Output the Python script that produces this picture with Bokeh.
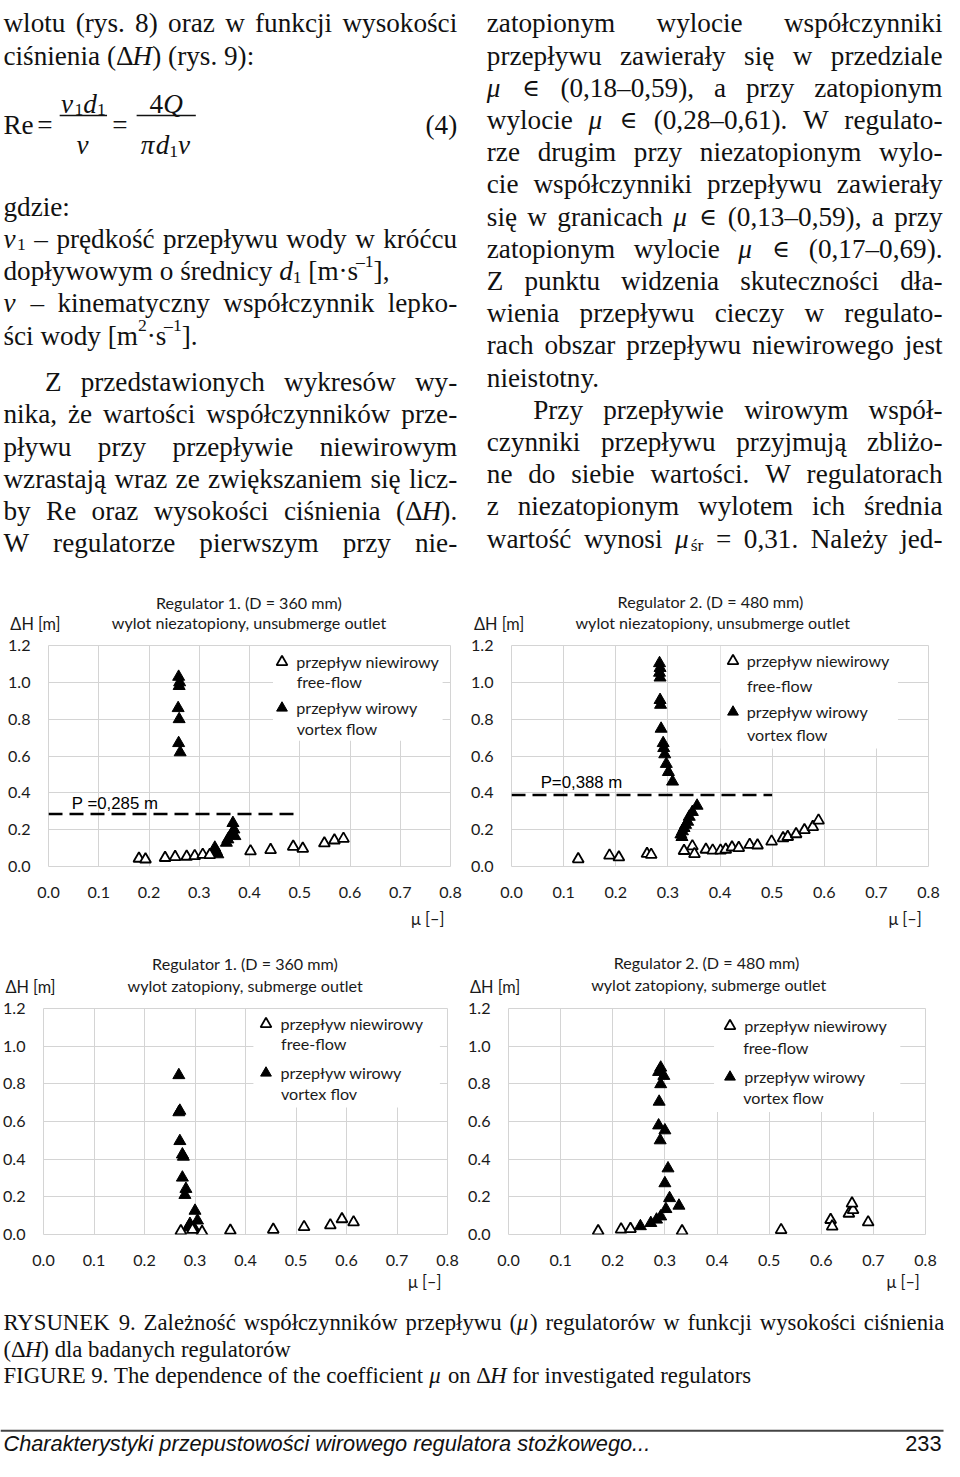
import re
from bokeh.plotting import figure
from bokeh.models import (Range1d, ColumnDataSource, Legend, LegendItem, Label,
                          BoxAnnotation, FixedTicker, NumeralTickFormatter)
from bokeh.layouts import column, row
from bokeh.core.properties import value, field
from bokeh.embed import file_html
from bokeh.resources import INLINE

# ---------------- chart data ----------------
mu_ticks = [0.0, 0.1, 0.2, 0.3, 0.4, 0.5, 0.6, 0.7, 0.8]
dh_ticks = [0.0, 0.2, 0.4, 0.6, 0.8, 1.0, 1.2]

# Regulator 1 (D = 360 mm), unsubmerged outlet
r1u_free_mu = [0.180, 0.193, 0.232, 0.252, 0.275, 0.291, 0.307, 0.321, 0.402, 0.442, 0.487, 0.506, 0.549, 0.569, 0.587]
r1u_free_dh = [0.043, 0.039, 0.047, 0.052, 0.054, 0.057, 0.064, 0.063, 0.083, 0.090, 0.108, 0.097, 0.126, 0.142, 0.151]
r1u_vort_mu = [0.259, 0.261, 0.260, 0.258, 0.260, 0.259, 0.262, 0.331, 0.337, 0.334, 0.354, 0.357, 0.367, 0.369, 0.371, 0.365]
r1u_vort_dh = [1.030, 1.000, 0.980, 0.860, 0.800, 0.670, 0.620, 0.102, 0.066, 0.084, 0.129, 0.147, 0.236, 0.201, 0.165, 0.180]
r1u_P = 0.285

# Regulator 2 (D = 480 mm), unsubmerged outlet
r2u_free_mu = [0.128, 0.188, 0.206, 0.260, 0.268, 0.331, 0.347, 0.351, 0.373, 0.386, 0.401, 0.411, 0.423, 0.436,
               0.457, 0.472, 0.499, 0.521, 0.530, 0.546, 0.562, 0.578, 0.589]
r2u_free_dh = [0.040, 0.060, 0.050, 0.069, 0.064, 0.085, 0.110, 0.068, 0.092, 0.087, 0.087, 0.092, 0.104, 0.101,
               0.118, 0.115, 0.136, 0.154, 0.161, 0.176, 0.198, 0.215, 0.250]
r2u_vort_mu = [0.284, 0.285, 0.284, 0.285, 0.285, 0.286, 0.287, 0.291, 0.292, 0.294, 0.297, 0.301, 0.309,
               0.356, 0.347, 0.341, 0.338, 0.334, 0.331, 0.328, 0.325, 0.327]
r2u_vort_dh = [1.104, 1.078, 1.052, 1.026, 0.904, 0.878, 0.748, 0.670, 0.643, 0.609, 0.557, 0.513, 0.461,
               0.330, 0.296, 0.270, 0.243, 0.226, 0.209, 0.191, 0.174, 0.160]
r2u_P = 0.388

# Regulator 1 (D = 360 mm), submerged outlet
r1s_free_mu = [0.272, 0.295, 0.314, 0.370, 0.455, 0.516, 0.568, 0.591, 0.614]
r1s_free_dh = [0.018, 0.026, 0.014, 0.021, 0.026, 0.040, 0.049, 0.082, 0.065]
r1s_vort_mu = [0.268, 0.268, 0.270, 0.270, 0.275, 0.277, 0.275, 0.282, 0.280, 0.300, 0.305, 0.290, 0.287, 0.298]
r1s_vort_dh = [0.846, 0.649, 0.657, 0.496, 0.425, 0.413, 0.302, 0.242, 0.210, 0.126, 0.074, 0.056, 0.039, 0.035]

# Regulator 2 (D = 480 mm), submerged outlet
r2s_free_mu = [0.172, 0.216, 0.234, 0.333, 0.523, 0.618, 0.621, 0.653, 0.661, 0.659, 0.690]
r2s_free_dh = [0.018, 0.027, 0.030, 0.018, 0.024, 0.078, 0.043, 0.111, 0.130, 0.165, 0.065]
r2s_vort_mu = [0.292, 0.288, 0.298, 0.292, 0.289, 0.288, 0.300, 0.291, 0.306, 0.300, 0.309, 0.327, 0.302,
               0.292, 0.284, 0.273, 0.253]
r2s_vort_dh = [0.886, 0.863, 0.842, 0.798, 0.705, 0.579, 0.553, 0.500, 0.351, 0.272, 0.193, 0.153, 0.135,
               0.096, 0.079, 0.061, 0.044]

p_line_mu = [0.0, 0.5]      # extent of the dashed P line

legend_free = ["przepływ niewirowy", "free-flow"]
legend_vort = ["przepływ wirowy", "vortex flow"]
legend_vort_r1s = ["przepływ wirowy", "vortex flov"]

# ---------------- page geometry ----------------
S_X = 944 / 957
S_Y = 1461 / 1474
S_F = (S_X + S_Y) / 2
K = S_F / S_X


def px(v):
    return f"{v * S_F:.2f}px"


def pg(yref):
    return int(round(yref * S_Y))


def pgx(xref):
    return int(round(xref * S_X))


# ---------------- text helpers (Times metrics) ----------------
TIMES = {}
for ch, w in zip("abcdefghijklmnopqrstuvwxyz",
                 [444, 500, 444, 500, 444, 333, 500, 500, 278, 278, 500, 278, 778, 500, 500, 500, 500, 333,
                  389, 278, 500, 500, 722, 500, 500, 444]):
    TIMES[ch] = w
for ch, w in zip("ABCDEFGHIJKLMNOPQRSTUVWXYZ",
                 [722, 667, 667, 722, 611, 556, 722, 722, 333, 389, 722, 611, 889, 722, 722, 556, 722, 667,
                  556, 611, 722, 722, 944, 722, 722, 611]):
    TIMES[ch] = w
for ch in "0123456789":
    TIMES[ch] = 500
TIMES.update({' ': 250, '(': 333, ')': 333, ',': 250, '.': 250, ':': 278, '-': 333, '–': 500, '[': 333,
              ']': 333, '=': 564, '·': 250, 'Δ': 612, 'μ': 576, 'ν': 500, 'π': 549, '∈': 760, '…': 1000})
POL = {'ą': 'a', 'ę': 'e', 'ć': 'c', 'ł': 'l', 'ń': 'n', 'ó': 'o', 'ś': 's', 'ź': 'z', 'ż': 'z',
       'Ż': 'Z', 'Ś': 'S', 'Ł': 'L'}

SERIF = "Liberation Serif"
MATH = "DejaVu Serif"


def em(text):
    return sum(TIMES.get(POL.get(c, c), 500) for c in text) / 1000.0


SEG = re.compile(r"\{(i|sub|sup|m)\|([^}]*)\}|([^{]+)")


def parse_word(word):
    segs = []
    for m in SEG.finditer(word):
        kind, inner, plain = m.groups()
        if plain:
            segs.append((plain, 'normal', 0.0, 1.0, SERIF))
        elif kind == 'i':
            segs.append((inner, 'italic', 0.0, 1.0, SERIF))
        elif kind == 'sub':
            segs.append((inner, 'normal', 0.22, 0.65, SERIF))
        elif kind == 'sup':
            segs.append((inner, 'normal', -0.38, 0.65, SERIF))
        elif kind == 'm':
            segs.append((inner, 'normal', 0.0, 0.88, MATH))
    return segs


class TextSink:
    def __init__(self):
        self.d = dict(x=[], y=[], t=[], st=[], sz=[], f=[])

    def seg_w(self, seg, size):
        return em(seg[0]) * size * seg[3] * K

    def put(self, markup, x0, y, size, mode='left', x1=None):
        words = [parse_word(w) for w in markup.split(' ')]
        widths = [sum(self.seg_w(s, size) for s in w) for w in words]
        space = em(' ') * size * K
        total = sum(widths) + space * (len(words) - 1)
        if mode == 'justify' and len(words) > 1:
            gap = (x1 - x0 - sum(widths)) / (len(words) - 1)
            x = x0
        else:
            gap = space
            x = {'center': x0 - total / 2, 'right': x0 - total}.get(mode, x0)
        for w, wd in zip(words, widths):
            xx = x
            for s in w:
                self.d['x'].append(xx)
                self.d['y'].append(y + s[2] * size)
                self.d['t'].append(s[0])
                self.d['st'].append(s[1])
                self.d['sz'].append(px(size * s[3]))
                self.d['f'].append(s[4])
                xx += self.seg_w(s, size)
            x += wd + gap


def text_figure(ref_top, ref_bot):
    page_top, page_bot = pg(ref_top), pg(ref_bot)
    p = figure(width=944, height=page_bot - page_top, x_range=Range1d(0, 944 / S_X),
               y_range=Range1d(page_bot / S_Y, page_top / S_Y),
               output_backend="svg", toolbar_location=None, min_border=0,
               x_axis_location=None, y_axis_location=None,
               background_fill_color="white", border_fill_color="white")
    p.grid.visible = False
    p.outline_line_color = None
    return p


def draw_serif(p, sink):
    p.text(x='x', y='y', text='t', source=ColumnDataSource(sink.d), text_font=field('f'),
           text_font_size=field('sz'), text_font_style=field('st'), text_baseline='alphabetic',
           text_align='left', text_color='#111111')


CF = "Lato"
INK = "#1a1a1a"
F_TITLE = 16.3
F_AXLAB = 16.5
F_TICK = 16.3
F_LEG = 16.3


def draw_sans(p, items):
    d = dict(x=[i[0] for i in items], y=[i[1] for i in items], t=[i[2] for i in items],
             al=[i[3] for i in items], sz=[px(i[4]) for i in items])
    p.text(x='x', y='y', text='t', source=ColumnDataSource(d), text_font=value(CF),
           text_font_size=field('sz'), text_align=field('al'), text_baseline='middle', text_color=INK)


BODY = 27.5

# ---------------- vertical bands (reference px) ----------------
BANDS = [0, 641, 915, 1007, 1280, 1461 / S_Y]

# ---------------- top text block ----------------
top = TextSink()
LX0, LX1 = 3, 463
RX0, RX1 = 493, 955
left_lines = [
    ("wlotu (rys. 8) oraz w funkcji wysokości", LX0, 'justify', 23),
    ("ciśnienia (Δ{i|H}) (rys. 9):", LX0, 'left', 55.5),
    ("gdzie:", LX0, 'left', 208),
    ("{i|v}{sub|1} – prędkość przepływu wody w króćcu", LX0, 'justify', 240.5),
    ("dopływowym o średnicy {i|d}{sub|1} [m·s{sup|–1}],", LX0, 'left', 273),
    ("{i|v} – kinematyczny współczynnik lepko-", LX0, 'justify', 305.5),
    ("ści wody [m{sup|2}·s{sup|–1}].", LX0, 'left', 338),
    ("Z przedstawionych wykresów wy-", 45, 'justify', 385),
    ("nika, że wartości współczynników prze-", LX0, 'justify', 417.5),
    ("pływu przy przepływie niewirowym", LX0, 'justify', 450),
    ("wzrastają wraz ze zwiększaniem się licz-", LX0, 'justify', 482.5),
    ("by Re oraz wysokości ciśnienia (Δ{i|H}).", LX0, 'justify', 515),
    ("W regulatorze pierwszym przy nie-", LX0, 'justify', 547.5),
]
for txt, x0, mode, y in left_lines:
    top.put(txt, x0, y, BODY, mode, LX1)

right_lines = [
    ("zatopionym wylocie współczynniki", RX0, 'justify'),
    ("przepływu zawierały się w przedziale", RX0, 'justify'),
    ("{i|μ} {m|∈} (0,18–0,59), a przy zatopionym", RX0, 'justify'),
    ("wylocie {i|μ} {m|∈} (0,28–0,61). W regulato-", RX0, 'justify'),
    ("rze drugim przy niezatopionym wylo-", RX0, 'justify'),
    ("cie współczynniki przepływu zawierały", RX0, 'justify'),
    ("się w granicach {i|μ} {m|∈} (0,13–0,59), a przy", RX0, 'justify'),
    ("zatopionym wylocie {i|μ} {m|∈} (0,17–0,69).", RX0, 'justify'),
    ("Z punktu widzenia skuteczności dła-", RX0, 'justify'),
    ("wienia przepływu cieczy w regulato-", RX0, 'justify'),
    ("rach obszar przepływu niewirowego jest", RX0, 'justify'),
    ("nieistotny.", RX0, 'left'),
    ("Przy przepływie wirowym współ-", 540, 'justify'),
    ("czynniki przepływu przyjmują zbliżo-", RX0, 'justify'),
    ("ne do siebie wartości. W regulatorach", RX0, 'justify'),
    ("z niezatopionym wylotem ich średnia", RX0, 'justify'),
    ("wartość wynosi {i|μ}{sub|śr} = 0,31. Należy jed-", RX0, 'justify'),
]
for i, (txt, x0, mode) in enumerate(right_lines):
    top.put(txt, x0, 23 + 32.5 * i, BODY, mode, RX1)

# formula (4)
top.put("Re", 3, 126, BODY)
top.put("=", 45, 126, BODY, 'center')
top.put("{i|ν}{sub|1}{i|d}{sub|1}", 84, 104, BODY, 'center')
top.put("{i|ν}", 84, 146, BODY, 'center')
top.put("=", 121, 126, BODY, 'center')
top.put("4{i|Q}", 168, 104, BODY, 'center')
top.put("{i|π}{i|d}{sub|1}{i|ν}", 168, 146, BODY, 'center')
top.put("(4)", 463, 126, BODY, 'right')
frac_x0 = [60, 138]
frac_x1 = [108, 198]
frac_y = [116, 116]

p_top = text_figure(BANDS[0], BANDS[1])
draw_serif(p_top, top)
p_top.segment(x0=frac_x0, x1=frac_x1, y0=frac_y, y1=frac_y, line_color='#111111', line_width=1.3)

# chart headers of row 1
draw_sans(p_top, [
    (252, 607, "Regulator 1. (D = 360 mm)", 'center', F_TITLE),
    (252, 628, "wylot niezatopiony, unsubmerge outlet", 'center', F_TITLE),
    (10, 629, "ΔH [m]", 'left', F_AXLAB),
    (722, 606, "Regulator 2.  (D = 480 mm)", 'center', F_TITLE),
    (722, 628, "wylot niezatopiony, unsubmerge outlet", 'center', F_TITLE),
    (480, 629, "ΔH [m]", 'left', F_AXLAB),
])

# ---------------- band between the chart rows ----------------
p_mid = text_figure(BANDS[2], BANDS[3])
draw_sans(p_mid, [
    (450, 926, "μ [–]", 'right', F_AXLAB),
    (934, 926, "μ [–]", 'right', F_AXLAB),
    (248, 972, "Regulator 1. (D = 360 mm)", 'center', F_TITLE),
    (248, 994, "wylot zatopiony, submerge outlet", 'center', F_TITLE),
    (5, 995, "ΔH [m]", 'left', F_AXLAB),
    (718, 971, "Regulator 2.  (D = 480 mm)", 'center', F_TITLE),
    (718, 993, "wylot zatopiony, submerge outlet", 'center', F_TITLE),
    (476, 995, "ΔH [m]", 'left', F_AXLAB),
])

# ---------------- bottom caption + footer ----------------
bot = TextSink()
cap1 = "RYSUNEK 9. Zależność współczynników przepływu ({i|μ}) regulatorów w funkcji wysokości ciśnienia"
cap_em = sum(em(s[0]) * s[3] for w in cap1.split(' ') for s in parse_word(w)) + em(' ') * (len(cap1.split(' ')) - 1)
CAP = min(23.0, 954 / (cap_em * K))
bot.put(cap1, 3, 1333.5, CAP, 'justify', 957)
bot.put("(Δ{i|H}) dla badanych regulatorów", 3, 1360.5, CAP)
bot.put("FIGURE 9. The dependence of the coefficient {i|μ} on Δ{i|H} for investigated regulators", 3, 1387.5, CAP)

p_bot = text_figure(BANDS[4], BANDS[5])
draw_serif(p_bot, bot)
draw_sans(p_bot, [
    (447, 1292, "μ [–]", 'right', F_AXLAB),
    (932, 1292, "μ [–]", 'right', F_AXLAB),
])
p_bot.segment(x0=[0], x1=[956], y0=[1443], y1=[1443], line_color='#444444', line_width=2)
foot_src = ColumnDataSource(dict(x=[3], y=[1456], t=["Charakterystyki przepustowości wirowego regulatora stożkowego..."]))
p_bot.text(x='x', y='y', text='t', source=foot_src, text_font=value("Liberation Sans"),
           text_font_size=px(22), text_font_style='italic', text_baseline='middle', text_color='#111111')
page_src = ColumnDataSource(dict(x=[954], y=[1456], t=["233"]))
p_bot.text(x='x', y='y', text='t', source=page_src, text_font=value("Liberation Sans"),
           text_font_size=px(22), text_align='right', text_baseline='middle', text_color='#111111')

# ---------------- charts ----------------
GRID = "#d4d4d4"
G = 27
SPLIT = 471   # reference x where the two chart columns meet


def build_chart(g, free_mu, free_dh, vort_mu, vort_dh, vort_labels, P=None, P_text=None):
    L, R, T, B = g['frame']
    pl = pgx(g['x0'])
    pw = pgx(g['x1']) - pl
    ref_top, ref_bot = g['band']
    pt, ph = pg(ref_top), pg(ref_bot) - pg(ref_top)
    bl = pgx(L) - pl
    fw = pgx(R) - pgx(L)
    br = pw - bl - fw
    bt = pg(T) - pt
    fh = pg(B) - pg(T)
    bb = ph - bt - fh

    def dx(x):
        return (x - L) / (R - L) * 0.8

    def dy(y):
        return (B - y) / (B - T) * 1.2

    p = figure(width=pw, height=ph, x_range=Range1d(0, 0.8), y_range=Range1d(0, 1.2),
               output_backend="svg", toolbar_location=None,
               min_border_left=bl, min_border_right=br, min_border_top=bt, min_border_bottom=bb,
               background_fill_color="white", border_fill_color="white")
    p.xaxis.ticker = FixedTicker(ticks=mu_ticks)
    p.yaxis.ticker = FixedTicker(ticks=dh_ticks)
    p.xgrid.ticker = FixedTicker(ticks=mu_ticks)
    p.ygrid.ticker = FixedTicker(ticks=dh_ticks)
    p.xaxis.formatter = NumeralTickFormatter(format="0.0")
    p.yaxis.formatter = NumeralTickFormatter(format="0.0")
    for ax in (p.xaxis, p.yaxis):
        ax.axis_line_color = None
        ax.major_tick_line_color = None
        ax.minor_tick_line_color = None
        ax.major_label_text_font = CF
        ax.major_label_text_font_size = px(F_TICK)
        ax.major_label_text_color = INK
    p.xaxis.major_label_standoff = 14
    p.yaxis.major_label_standoff = 12
    p.grid.grid_line_color = GRID
    p.grid.grid_line_width = 1
    p.outline_line_color = GRID

    lg = g['legend']
    bx0, bx1, by0, by1 = lg['box']
    p.add_layout(BoxAnnotation(left=dx(bx0), right=min(dx(bx1), 0.797), top=1.197, bottom=dy(by1),
                               fill_color='white', fill_alpha=1.0, line_color=None, level='underlay'))

    if P is not None:
        p.line(x=p_line_mu, y=[P, P], line_color='black', line_width=2.5, line_dash="14 7")
        p.add_layout(Label(x=dx(g['ptext'][0]), y=dy(g['ptext'][1]), text=P_text, text_font="Liberation Sans",
                           text_font_size=px(17), text_baseline='middle', text_color='black'))

    r_v = p.scatter(vort_mu, vort_dh, marker='triangle', size=12, fill_color='black', line_color='black',
                    line_width=1)
    r_f = p.scatter(free_mu, free_dh, marker='triangle', size=11, fill_color='white', line_color='black',
                    line_width=1.8)

    # legend (first lines via Legend, second lines as labels inside the frame)
    lx_rel = (lg['lx'] - L) * S_X
    standoff = 1
    left_rel = lx_rel - G - standoff
    top_rel = (lg['ty1'] - T) * S_Y - G / 2
    spacing = (lg['ty2'] - lg['ty1']) * S_Y - G
    height = 2 * G + spacing
    y_loc = fh - top_rel - height
    leg = Legend(items=[LegendItem(label=legend_free[0], renderers=[r_f]),
                        LegendItem(label=vort_labels[0], renderers=[r_v])],
                 location=(left_rel, y_loc), orientation='vertical', padding=0, margin=0,
                 spacing=int(round(spacing)), glyph_width=G, glyph_height=G, label_standoff=standoff,
                 label_height=20, label_text_font=CF, label_text_font_size=px(F_LEG), label_text_color=INK,
                 background_fill_alpha=0, border_line_alpha=0)
    p.add_layout(leg)
    for yy, tx in ((lg['l2a'], legend_free[1]), (lg['l2b'], vort_labels[1])):
        p.add_layout(Label(x=dx(lg['lx']), y=dy(yy), text=tx, text_font=CF, text_font_size=px(F_LEG),
                           text_baseline='middle', text_color=INK))
    return p


g1 = dict(frame=(48.3, 456.0, 651.0, 874.0), x0=0, x1=SPLIT, band=(BANDS[1], BANDS[2]), ptext=(72, 810),
          legend=dict(lx=300, ty1=668, ty2=714, l2a=687, l2b=735, box=(276, 448, 651, 747)))
g2 = dict(frame=(517.7, 941.0, 651.0, 878.3), x0=SPLIT, x1=957, band=(BANDS[1], BANDS[2]), ptext=(547.3, 791.7),
          legend=dict(lx=756.7, ty1=671, ty2=722.7, l2a=691.7, l2b=742.7, box=(730, 910, 651, 757)))
g3 = dict(frame=(43.3, 452.7, 1017.3, 1245.0), x0=0, x1=SPLIT, band=(BANDS[3], BANDS[4]),
          legend=dict(lx=284, ty1=1033.3, ty2=1082.3, l2a=1053, l2b=1102.7, box=(256, 445, 1017, 1117)))
g4 = dict(frame=(512.3, 937.7, 1017.3, 1245.7), x0=SPLIT, x1=957, band=(BANDS[3], BANDS[4]),
          legend=dict(lx=751.7, ty1=1036, ty2=1087.7, l2a=1056.7, l2b=1107.7, box=(722, 912, 1017, 1122)))

c1 = build_chart(g1, r1u_free_mu, r1u_free_dh, r1u_vort_mu, r1u_vort_dh, legend_vort, r1u_P, "P =0,285 m")
c2 = build_chart(g2, r2u_free_mu, r2u_free_dh, r2u_vort_mu, r2u_vort_dh, legend_vort, r2u_P, "P=0,388 m")
c3 = build_chart(g3, r1s_free_mu, r1s_free_dh, r1s_vort_mu, r1s_vort_dh, legend_vort_r1s)
c4 = build_chart(g4, r2s_free_mu, r2s_free_dh, r2s_vort_mu, r2s_vort_dh, legend_vort)

page = column(p_top, row(c1, c2, spacing=0), p_mid, row(c3, c4, spacing=0), p_bot, spacing=0)
open("out.html", "w").write(file_html(page, INLINE))
